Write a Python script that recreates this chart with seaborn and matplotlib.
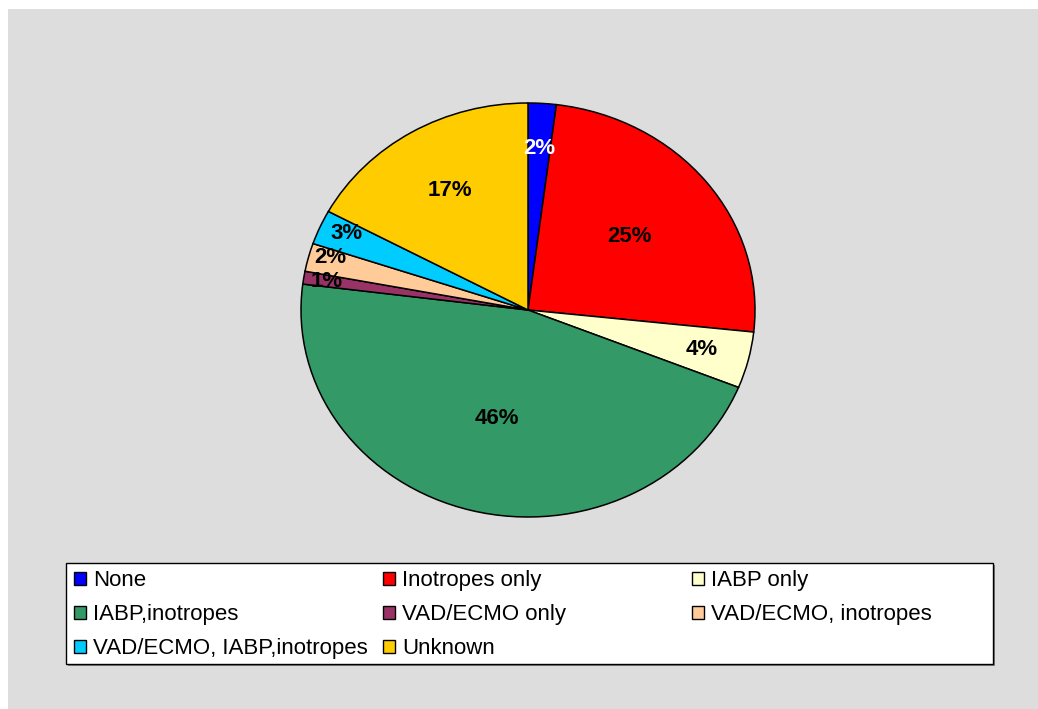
import numpy as np
import seaborn as sns
import matplotlib.pyplot as plt
from matplotlib.patches import Rectangle

# data
categories = ['None', 'Inotropes only', 'IABP only', 'IABP,inotropes',
              'VAD/ECMO only', 'VAD/ECMO, inotropes',
              'VAD/ECMO, IABP,inotropes', 'Unknown']
shares = [2.0, 24.7, 4.4, 45.9, 1.0, 2.2, 2.7, 17.1]
slice_colors = ['#0000FF', '#FF0000', '#FFFFCC', '#339966',
                '#993366', '#FFCC99', '#00CCFF', '#FFCC00']
label_colors = ['white', 'black', 'black', 'black',
                'black', 'black', 'black', 'black']
# how far out each percent label sits (fraction of radius) and a small vertical nudge (px)
label_radius = [0.78, 0.57, 0.79, 0.54, 0.9, 0.9, 0.87, 0.67]
label_nudge = [0, 0, 0, 0, -1, 5, 4, 0]

sns.set_style('white')
plt.rcParams['font.family'] = ['Liberation Sans', 'DejaVu Sans']
plt.rcParams['text.color'] = 'black'

W, H = 1038, 709
fig = plt.figure(figsize=(W / 100, H / 100), dpi=100)
fig.patch.set_facecolor('white')

# gray chart area
fig.patches.append(Rectangle((8 / W, 0), 1 - 8 / W, 1 - 9 / H, transform=fig.transFigure,
                             facecolor='#DDDDDD', edgecolor='none', zorder=-5))

# pie axes (stretched into an ellipse like the original)
cx, cy, rx, ry = 528, 310, 227, 207
ax = fig.add_axes([(cx - rx) / W, (H - cy - ry) / H, 2 * rx / W, 2 * ry / H])
ax.set_zorder(1)
palette = sns.color_palette(slice_colors)
wedges, _ = ax.pie(shares, colors=palette, startangle=90, counterclock=False,
                   wedgeprops=dict(edgecolor='black', linewidth=1.1))
ax.set_aspect('auto')
ax.set_xlim(-1, 1)
ax.set_ylim(-1, 1)
ax.axis('off')

for w, val, col, r, dy in zip(wedges, shares, label_colors, label_radius, label_nudge):
    mid = np.deg2rad((w.theta1 + w.theta2) / 2)
    ax.annotate(f'{round(val):.0f}%', (r * np.cos(mid), r * np.sin(mid)),
                xytext=(0, dy * 0.72), textcoords='offset points',
                ha='center', va='center', fontsize=16, fontweight='bold', color=col)

# legend box with shadow
lx0, ly0, lx1, ly1 = 66, 563, 993, 664
fig.patches.append(Rectangle(((lx0 + 2) / W, (H - ly1 - 2) / H), (lx1 - lx0) / W, (ly1 - ly0) / H,
                             transform=fig.transFigure, facecolor='#808080', edgecolor='none', zorder=1))
fig.patches.append(Rectangle((lx0 / W, (H - ly1) / H), (lx1 - lx0) / W, (ly1 - ly0) / H,
                             transform=fig.transFigure, facecolor='white', edgecolor='black',
                             linewidth=1.0, zorder=2))

# three legend columns, filled row by row like the original
col_x = [70, 379, 688]
for c in range(3):
    idx = list(range(c, len(categories), 3))
    handles = [Rectangle((0, 0), 1, 1, facecolor=slice_colors[i], edgecolor='black', linewidth=1.0)
               for i in idx]
    leg = fig.legend(handles, [categories[i] for i in idx], loc='upper left',
                     bbox_to_anchor=(col_x[c] / W, (H - 566) / H), frameon=False,
                     fontsize=16, handlelength=0.5, handleheight=0.5, handletextpad=0.35,
                     labelspacing=0.58, borderaxespad=0, borderpad=0.2)
    for t in leg.get_texts():
        t.set_color('black')
    leg.set_zorder(3)

fig.savefig('out.png', dpi=100)
